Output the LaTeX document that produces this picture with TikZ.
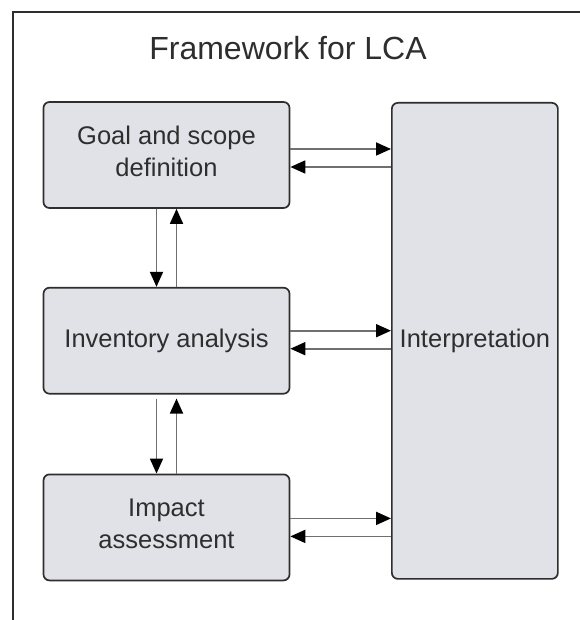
\documentclass[tikz,border=0pt]{standalone}
\usepackage{fontspec}
\setmainfont{Liberation Sans}
\usepackage{xcolor}
\definecolor{boxfill}{HTML}{E0E2E7}
\definecolor{boxline}{HTML}{2E2E2E}
\definecolor{linkline}{HTML}{707070}
\usetikzlibrary{arrows.meta, positioning, calc}

\tikzset{
  phase/.style={draw=boxline, fill=boxfill, line width=1.7pt, rounded corners=6pt,
                minimum width=246pt, minimum height=106pt, inner sep=0pt,
                align=center, text=boxline,
                font=\fontsize{25.5}{32}\selectfont},
  twoline/.style={text depth=7pt},
  link/.style={draw=linkline, line width=1.8pt,
               -{Triangle[length=15pt,width=13pt,color=black]}}
}

\begin{document}
\begin{tikzpicture}[x=1pt, y=-1pt]
  \useasboundingbox (0,0) rectangle (579,620);
  \fill[white] (0,0) rectangle (579,620);

  % outer frame, open to the right and bottom
  \draw[boxline, line width=1.8pt] (13,640) -- (13,11.7) -- (600,11.7);

  \node[font=\fontsize{32}{38}\selectfont, text=boxline] (title) at (288,48)
    {Framework for LCA};

  \node[phase, twoline] (goal) at (166.5,155) {Goal and scope\\definition};
  \node[phase, below=78pt of goal] (inventory) {Inventory analysis};
  \node[phase, twoline, below=79pt of inventory] (impact) {Impact\\assessment};

  \node[phase, minimum width=166pt, minimum height=476pt,
        anchor=north west] (interp) at (391,102) {Interpretation};

  % each stage talks to the interpretation step
  \foreach \stage/\off in {goal/3, inventory/-1, impact/0} {
    \coordinate (out) at ($(\stage.east)+(0,\off-9)$);
    \coordinate (back) at ($(\stage.east)+(0,\off+9)$);
    \draw[link] (out) -- (out -| interp.west);
    \draw[link] (back -| interp.west) -- (back);
  }

  % iteration between the stages
  \draw[link] ([xshift=-10pt]goal.south) -- ([xshift=-10pt]inventory.north);
  \draw[link] ([xshift=10pt]inventory.north) -- ([xshift=10pt]goal.south);
  \draw[link, shorten <=4pt] ([xshift=-10pt]inventory.south) -- ([xshift=-10pt]impact.north);
  \draw[link, shorten >=4pt] ([xshift=10pt]impact.north) -- ([xshift=10pt]inventory.south);
\end{tikzpicture}
\end{document}
